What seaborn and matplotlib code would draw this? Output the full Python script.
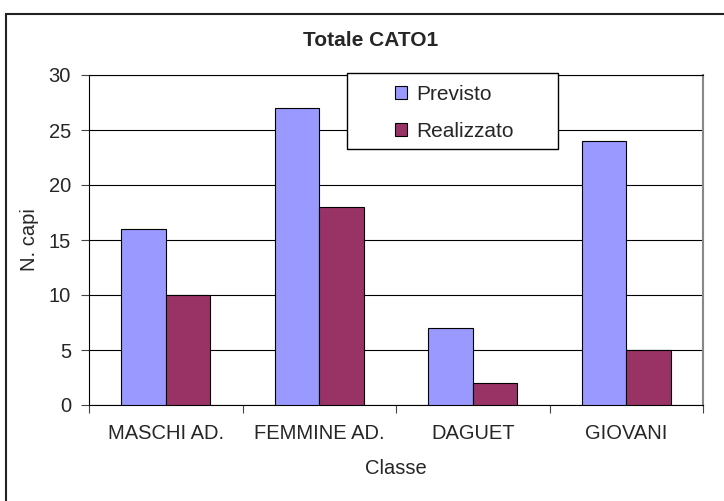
import pandas as pd
import seaborn as sns
import matplotlib.pyplot as plt
from matplotlib.patches import Rectangle

# Chart values
classi = ["MASCHI AD.", "FEMMINE AD.", "DAGUET", "GIOVANI"]
previsto = [16, 27, 7, 24]
realizzato = [10, 18, 2, 5]
serie = ["Previsto", "Realizzato"]
colori = {"Previsto": "#9999FF", "Realizzato": "#993366"}
y_ticks = [0, 5, 10, 15, 20, 25, 30]

# Long table for seaborn
df = pd.DataFrame({
    "Classe": classi * 2,
    "N. capi": previsto + realizzato,
    "Serie": [serie[0]] * len(classi) + [serie[1]] * len(classi),
})

sns.set_theme(style="white")
plt.rcParams["font.family"] = ["Liberation Sans", "DejaVu Sans"]
fs = 14.5

fig = plt.figure(figsize=(7.24, 5.01), dpi=100)
ax = fig.add_axes([89 / 724, 1 - 405 / 501, 614 / 724, 330 / 501])

# outer chart border (right and bottom fall outside the picture)
fig.patches.append(Rectangle((6 / 724, -0.2), 1.5, 1.2 - 14 / 501,
                             transform=fig.transFigure, fill=False,
                             edgecolor="#222222", linewidth=1.5))

sns.barplot(data=df, x="Classe", y="N. capi", hue="Serie", order=classi,
            hue_order=serie, palette=colori, saturation=1, width=0.58,
            edgecolor="black", linewidth=0.8, ax=ax, zorder=3)

ax.set_ylim(0, 30)
ax.set_xlim(-0.5, len(classi) - 0.5)
ax.set_yticks(y_ticks)
ax.yaxis.grid(True, color="black", linewidth=0.8)
ax.set_axisbelow(True)

# tick marks between the categories, labels at the centres
ax.set_xticks([i - 0.5 for i in range(len(classi) + 1)])
ax.set_xticklabels([])
ax.set_xticks(range(len(classi)), minor=True)
ax.set_xticklabels(classi, minor=True)
ax.tick_params(axis="x", which="major", direction="out", length=6, width=0.8,
               color="#444444", bottom=True)
ax.tick_params(axis="x", which="minor", length=0, pad=14, labelsize=fs)
ax.tick_params(axis="y", direction="out", length=6, width=0.8, color="#444444",
               left=True, labelsize=fs, pad=7)

for side in ["left", "bottom", "top"]:
    ax.spines[side].set_color("black")
    ax.spines[side].set_linewidth(0.8)
ax.spines["right"].set_color("#888888")
ax.spines["right"].set_linewidth(1.5)

ax.set_xlabel("Classe", fontsize=fs, labelpad=11)
ax.set_ylabel("N. capi", fontsize=fs, labelpad=7)
fig.text(371 / 724, 1 - 40 / 501, "Totale CATO1", ha="center", va="center",
         fontsize=15, fontweight="bold")

# legend box drawn by hand (Excel style padding), entries from seaborn
ax.add_patch(Rectangle((0.420, 0.776), 0.344, 0.230, transform=ax.transAxes,
                       facecolor="white", edgecolor="black", linewidth=1.0,
                       clip_on=False, zorder=9))
leg = ax.legend(loc="upper left", bbox_to_anchor=(0.498, 0.970),
                borderaxespad=0, borderpad=0, fontsize=15, handlelength=0.58,
                handleheight=0.58, handletextpad=0.45, labelspacing=0.85,
                frameon=False, title=None)
leg.set_zorder(10)
for h in leg.legend_handles:
    h.set_edgecolor("black")
    h.set_linewidth(0.8)

fig.savefig("out.png", dpi=100)
